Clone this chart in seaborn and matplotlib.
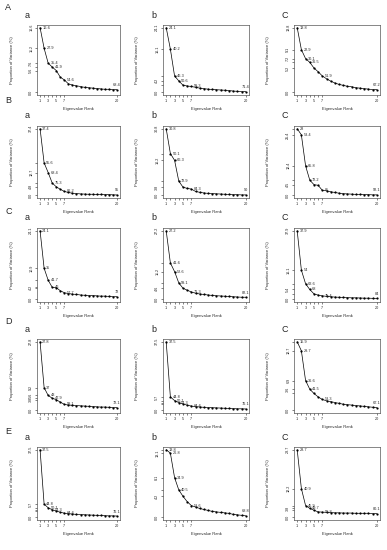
"""
Scree-Plots (Anteil der Varianz je Eigenwert-Rang) fuer fuenf Datensaetze A-E,
jeweils drei Teilabbildungen a, b, C.
"""

import matplotlib
matplotlib.use("Agg")
import matplotlib.pyplot as plt
import pandas as pd
import seaborn as sns

ranks = list(range(1, 21))
label_ranks = [1, 2, 3, 4, 7, 20]
xtick_pos = [1, 2, 3, 4, 5, 6, 7, 20]
xtick_txt = ["1", "", "3", "", "5", "", "7", "20"]

# --- Zeile A ---
var_A_a = [16.6, 11.3, 7.5, 6.5, 5.6, 3.9, 3.2, 2.2, 1.9, 1.7, 1.5, 1.3, 1.2, 1.1, 1.0, 0.9, 0.8, 0.8, 0.7, 0.7]
cum_A_a = ["16.6", "27.9", "35.4", "41.9", "54.6", "68.4"]
yt_A_a = [16.6, 11.3, 7.5, 6.5, 5.6, 0.0]
ytl_A_a = ["16.6", "11.2", "7.6", "", "5.6", "0.0"]

var_A_b = [24.1, 16.1, 6.1, 4.3, 2.7, 2.4, 2.2, 1.9, 1.6, 1.4, 1.2, 1.1, 1.0, 0.9, 0.8, 0.7, 0.5, 0.4, 0.3, 0.3]
cum_A_b = ["24.1", "40.2", "46.3", "50.6", "59.3", "71.4"]
yt_A_b = [24.1, 16.1, 6.1, 4.3, 2.7, 0.0]
ytl_A_b = ["24.1", "16.1", "", "4.2", "", "0.0"]

var_A_C = [13.8, 9.1, 7.2, 6.4, 5.2, 4.4, 3.5, 2.9, 2.4, 2.0, 1.7, 1.5, 1.3, 1.2, 1.0, 0.9, 0.8, 0.7, 0.6, 0.6]
cum_A_C = ["13.8", "22.9", "30.1", "36.5", "51.9", "67.2"]
yt_A_C = [13.8, 9.1, 7.2, 6.4, 5.2, 0.0]
ytl_A_C = ["13.8", "9.1", "7.2", "", "5.2", "0.0"]

# --- Zeile B ---
var_B_a = [37.4, 18.2, 12.8, 6.9, 4.8, 3.4, 2.2, 1.6, 1.2, 1.0, 0.8, 0.7, 0.6, 0.6, 0.5, 0.5, 0.4, 0.4, 0.3, 0.2]
cum_B_a = ["37.4", "55.6", "68.4", "75.3", "86.2", "95"]
yt_B_a = [37.4, 18.2, 12.8, 6.9, 4.8, 0.0]
ytl_B_a = ["37.4", "", "12.7", "", "4.8", "0.0"]

var_B_b = [30.8, 19.3, 16.2, 6.6, 3.8, 3.2, 2.9, 1.8, 1.4, 1.1, 0.9, 0.8, 0.7, 0.6, 0.5, 0.4, 0.3, 0.3, 0.2, 0.2]
cum_B_b = ["30.8", "50.1", "66.3", "72.9", "84.3", "90"]
yt_B_b = [30.8, 19.3, 16.2, 6.6, 3.8, 0.0]
ytl_B_b = ["30.8", "", "16.2", "", "3.8", "0.0"]

var_B_C = [28.0, 25.4, 12.4, 6.4, 4.5, 4.2, 2.1, 1.9, 1.5, 1.2, 0.9, 0.7, 0.6, 0.5, 0.4, 0.4, 0.3, 0.3, 0.2, 0.2]
cum_B_C = ["28", "53.4", "65.8", "72.2", "85", "92.1"]
yt_B_C = [28.0, 25.4, 12.4, 6.4, 4.5, 0.0]
ytl_B_C = ["", "25.4", "12.4", "", "4.5", "0.0"]

# --- Zeile C ---
var_C_a = [24.1, 10.9, 6.7, 4.2, 4.1, 3.0, 2.3, 2.0, 1.8, 1.7, 1.5, 1.4, 1.3, 1.3, 1.2, 1.1, 1.1, 1.0, 0.9, 0.9]
cum_C_a = ["24.1", "35", "41.7", "46", "57.7", "72"]
yt_C_a = [24.1, 10.9, 6.7, 4.2, 4.1, 0.0]
ytl_C_a = ["24.1", "10.9", "", "4.2", "", "0.0"]

var_C_b = [27.2, 14.4, 11.0, 6.5, 4.4, 3.6, 2.9, 2.4, 2.1, 1.9, 1.7, 1.5, 1.4, 1.3, 1.2, 1.1, 1.0, 0.9, 0.8, 0.8]
cum_C_b = ["27.2", "41.6", "52.6", "59.1", "71.3", "82.1"]
yt_C_b = [27.2, 14.4, 11.0, 6.5, 4.4, 0.0]
ytl_C_b = ["27.2", "", "11.2", "", "4.6", "0.0"]

var_C_C = [37.9, 16.1, 8.6, 5.4, 3.0, 2.3, 1.9, 1.6, 1.4, 1.2, 1.1, 1.0, 0.9, 0.8, 0.8, 0.7, 0.6, 0.6, 0.5, 0.5]
cum_C_C = ["37.9", "54", "62.6", "68", "75.4", "84"]
yt_C_C = [37.9, 16.1, 8.6, 5.4, 3.0, 0.0]
ytl_C_C = ["37.9", "16.1", "", "5.4", "", "0.0"]

# --- Zeile D ---
var_D_a = [27.8, 9.2, 6.0, 4.9, 4.3, 3.3, 2.4, 2.1, 2.0, 1.9, 1.8, 1.7, 1.6, 1.5, 1.4, 1.3, 1.3, 1.2, 1.1, 1.1]
cum_D_a = ["27.8", "37", "43", "47.9", "59.1", "72.1"]
yt_D_a = [27.8, 9.2, 6.0, 4.9, 4.3, 0.0]
ytl_D_a = ["27.8", "9.2", "5.6", "", "3.8", "0.0"]

var_D_b = [37.5, 7.3, 5.3, 4.2, 3.5, 2.8, 2.3, 2.0, 1.8, 1.6, 1.5, 1.4, 1.3, 1.2, 1.1, 1.0, 0.9, 0.8, 0.8, 0.7]
cum_D_b = ["37.5", "44.8", "50.1", "54.3", "64.6", "76.1"]
yt_D_b = [37.5, 7.3, 5.3, 4.2, 3.5, 0.0]
ytl_D_b = ["37.5", "5.7", "", "", "", "0.0"]

var_D_C = [15.9, 13.8, 6.9, 4.9, 3.9, 3.1, 2.5, 2.2, 2.0, 1.8, 1.6, 1.4, 1.3, 1.2, 1.1, 1.0, 0.9, 0.8, 0.7, 0.6]
cum_D_C = ["15.9", "29.7", "36.6", "41.5", "53.3", "67.1"]
yt_D_C = [15.9, 13.8, 6.9, 4.9, 3.9, 0.0]
ytl_D_C = ["", "12.7", "6.9", "3.6", "", "0.0"]

# --- Zeile E ---
var_E_a = [37.5, 7.3, 5.3, 4.2, 3.5, 2.8, 2.3, 2.0, 1.8, 1.6, 1.5, 1.4, 1.3, 1.2, 1.1, 1.0, 0.9, 0.8, 0.8, 0.7]
cum_E_a = ["37.5", "44.8", "50.1", "54.3", "64.6", "76.1"]
yt_E_a = [37.5, 7.3, 5.3, 4.2, 3.5, 0.0]
ytl_E_a = ["37.5", "5.7", "", "", "", "0.0"]

var_E_b = [13.8, 13.1, 8.1, 5.6, 4.3, 3.2, 2.4, 2.1, 1.8, 1.6, 1.4, 1.2, 1.1, 1.0, 0.9, 0.8, 0.6, 0.5, 0.4, 0.3]
cum_E_b = ["13.8", "26.8", "34.9", "40.5", "53.6", "68.8"]
yt_E_b = [13.8, 13.1, 8.1, 5.6, 4.3, 0.0]
ytl_E_b = ["", "13.1", "8.1", "", "4.2", "0.0"]

var_E_C = [28.7, 12.2, 5.0, 3.8, 3.0, 2.3, 2.2, 2.1, 2.0, 1.9, 1.9, 1.8, 1.8, 1.8, 1.7, 1.7, 1.7, 1.7, 1.6, 1.6]
cum_E_C = ["28.7", "40.9", "45.9", "49.7", "56.8", "80.1"]
yt_E_C = [28.7, 12.2, 5.0, 3.8, 3.0, 0.0]
ytl_E_C = ["28.7", "12.2", "", "3.8", "", "0.0"]

row_names = ["A", "B", "C", "D", "E"]
col_names = ["a", "b", "C"]

# Layout in Pixeln (Figur 387 x 550)
W, H = 387, 550
cols_px = [(37, 120), (163, 249), (294, 380)]
rows_px = [(25, 95), (126, 198), (228, 302), (339, 413), (447, 520)]
row_label_y = [8, 100, 212, 322, 431]

sns.set_style("ticks")
plt.rcParams["font.family"] = ["Liberation Sans", "DejaVu Sans"]

fig = plt.figure(figsize=(W / 100, H / 100), dpi=100)

for i, rn in enumerate(row_names):
    top, bottom = rows_px[i]
    fig.text(5 / W, 1 - row_label_y[i] / H, rn, fontsize=6.5, ha="left", va="center")
    for j, cn in enumerate(col_names):
        left, right = cols_px[j]
        key = rn + "_" + cn
        vals = globals()["var_" + key]
        cums = globals()["cum_" + key]
        yt = globals()["yt_" + key]
        ytl = globals()["ytl_" + key]

        ax = fig.add_axes([left / W, 1 - bottom / H, (right - left) / W, (bottom - top) / H])
        df = pd.DataFrame({"rank": ranks, "var": vals})
        sns.lineplot(data=df, x="rank", y="var", ax=ax, color="black", linewidth=0.5,
                     marker="o", markersize=1.6, markeredgewidth=0)

        # kumulierte Anteile als Beschriftung
        for r, txt in zip(label_ranks, cums):
            y = vals[r - 1]
            if r == 20:
                ax.annotate(txt, (r, y), xytext=(0, 1.8), textcoords="offset points",
                            ha="center", va="bottom", fontsize=2.8, clip_on=True)
            else:
                ax.annotate(txt, (r, y), xytext=(1.6, 0), textcoords="offset points",
                            ha="left", va="center", fontsize=2.8, clip_on=True)

        m = max(vals)
        ax.set_xlim(0.24, 20.76)
        ax.set_ylim(-0.04 * m, 1.04 * m)
        ax.set_xticks(xtick_pos)
        ax.set_xticklabels(xtick_txt)
        ax.set_yticks(yt)
        ax.set_yticklabels(ytl, rotation=90, va="center")
        ax.tick_params(length=1.5, width=0.4, pad=1.2, labelsize=2.7, colors="#222222")
        for sp in ax.spines.values():
            sp.set_linewidth(0.45)
            sp.set_color("#444444")
        ax.set_xlabel("Eigenvalue Rank", fontsize=3.0, labelpad=3)
        ax.set_ylabel("Proportion of Variance (%)", fontsize=3.0)
        ax.yaxis.set_label_coords(-0.28, 0.5)

        # Buchstabe der Teilabbildung
        fig.text((left - 12) / W, 1 - (top - 10) / H, cn, fontsize=6.5, ha="left", va="center")

fig.savefig("out.png", dpi=100)
